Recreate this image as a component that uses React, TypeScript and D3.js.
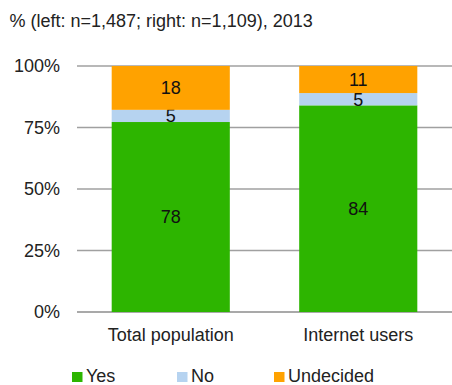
import React from "react";
import * as d3 from "d3";

const categories = ["Total population", "Internet users"];
const seriesNames = ["Yes", "No", "Undecided"];
const yesValues = [78, 84];
const noValues = [5, 5];
const undecidedValues = [18, 11];
const yTicks = [0, 25, 50, 75, 100];
const title = "% (left: n=1,487; right: n=1,109), 2013";

const colors = ["#2DB500", "#B6D3F0", "#FFA200"];

export default function App() {
  const W = 452, H = 385;
  const x0 = 77, x1 = 452, yTop = 66, yBot = 312;
  const font = "'Liberation Sans', Arial, sans-serif";
  const fs = 18;

  const x = d3.scaleBand<string>().domain(categories).range([x0, x1]).paddingInner(0.37).paddingOuter(0.185);
  const y = d3.scaleLinear().domain([0, 100]).range([yBot, yTop]);

  const rows = categories.map((c, i) => ({
    cat: c,
    Yes: yesValues[i],
    No: noValues[i],
    Undecided: undecidedValues[i],
  }));
  const stack = d3.stack<any>().keys(seriesNames);
  const stacked = stack(rows);

  // Normalize so top reaches exactly 100%
  const totals = rows.map((r) => r.Yes + r.No + r.Undecided);
  const yn = (v: number, i: number) => y((v / totals[i]) * 100);

  const legendX = [72, 177, 274];

  return (
    <svg width={W} height={H} style={{ position: "absolute", left: 0, top: 0 }} fontFamily={font}>
      <rect width={W} height={H} fill="#fff" />
      <text x={9.5} y={26.5} fontSize={fs} fill="#222">{title}</text>
      {yTicks.map((t) => (
        <g key={t}>
          <line x1={x0} x2={x1} y1={y(t)} y2={y(t)} stroke={t === 0 ? "#8C8C8C" : "#A0A0A0"} strokeWidth={1.3} />
          <text x={60} y={y(t)} dy="0.35em" textAnchor="end" fontSize={fs} fill="#222">{t}%</text>
        </g>
      ))}
      {stacked.map((s, si) => (
        <g key={s.key}>
          {s.map((d, i) => {
            const top = yn(d[1], i);
            const bot = yn(d[0], i);
            const cx = (x(categories[i]) as number) + x.bandwidth() / 2;
            return (
              <g key={i}>
                <rect x={x(categories[i])} width={x.bandwidth()} y={top} height={bot - top} fill={colors[si]} />
                <text x={cx} y={(top + bot) / 2} dy="0.36em" textAnchor="middle" fontSize={fs} fill="#111">
                  {d[1] - d[0]}
                </text>
              </g>
            );
          })}
        </g>
      ))}
      {categories.map((c) => (
        <text key={c} x={(x(c) as number) + x.bandwidth() / 2} y={340.5} textAnchor="middle" fontSize={fs} fill="#222">{c}</text>
      ))}
      {seriesNames.map((n, i) => (
        <g key={n}>
          <rect x={legendX[i]} y={372} width={10.5} height={10} fill={colors[i]} />
          <text x={legendX[i] + 14} y={382} fontSize={fs} fill="#222">{n}</text>
        </g>
      ))}
    </svg>
  );
}
